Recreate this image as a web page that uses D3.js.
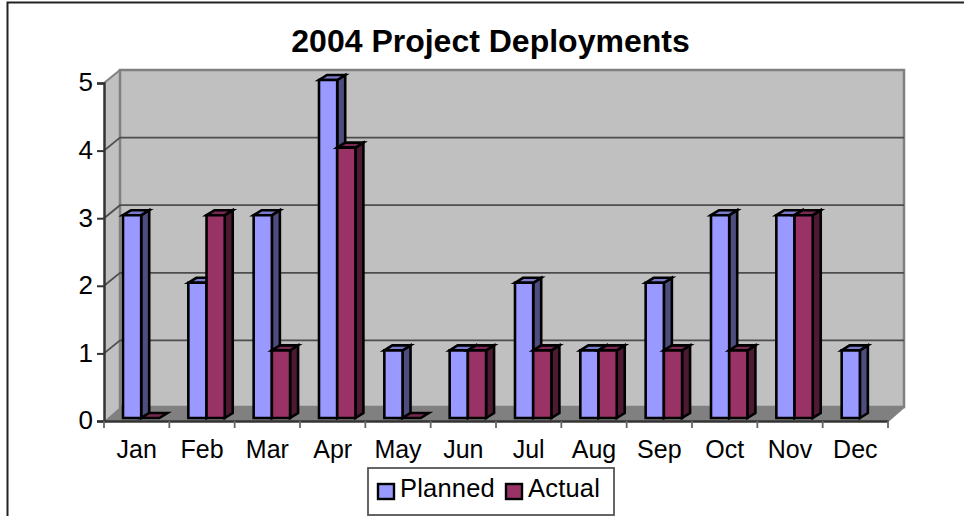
<!DOCTYPE html>
<html><head><meta charset="utf-8">
<script src="https://cdn.jsdelivr.net/npm/d3@7"></script>
<style>html,body{margin:0;padding:0;background:#fff}svg{display:block}text{font-family:"Liberation Sans",Arial,sans-serif;fill:#000}</style>
</head><body><svg id="c" width="964" height="516"></svg>
<script>
const months=["Jan","Feb","Mar","Apr","May","Jun","Jul","Aug","Sep","Oct","Nov","Dec"];
const planned=[3,2,3,5,1,1,2,1,2,3,3,1];
const actual=[0,3,1,4,0,1,1,1,1,1,3,null];
const yTicks=[0,1,2,3,4,5];
const titleText="2004 Project Deployments";
const seriesNames=["Planned","Actual"];
const palette={Planned:{f:"#9999ff",s:"#4d4d80",t:"#7a7acc"},Actual:{f:"#993366",s:"#4d1a33",t:"#7a2952"}};

const svg=d3.select("#c");
const L=104,R=888,B=421,T=83,DX=16,DY=14;
const x=d3.scaleBand().domain(months).range([L,R]);
const y=d3.scaleLinear().domain([0,5]).range([B,T]);
const barW=18.2,barDX=19,barLift=3,dx=8,dy=5;
const poly=(pts,fill,stroke,sw)=>svg.append("polygon").attr("points",pts.map(p=>p.join(",")).join(" ")).attr("fill",fill).attr("stroke",stroke||"none").attr("stroke-width",sw||0).attr("stroke-linejoin","miter");

// chart frame
svg.append("path").attr("d","M7.5,516V2.5H964").attr("fill","none").attr("stroke","#222").attr("stroke-width",2);
svg.append("text").attr("x",490.5).attr("y",52).attr("text-anchor","middle").attr("font-weight","bold").attr("font-size",32).text(titleText);

// walls
poly([[L,T],[L+DX,T-DY+1],[L+DX,B-DY],[L,B]],"#c0c0c0");
poly([[L+DX,T-DY+1],[R+DX,T-DY+1],[R+DX,B-DY],[L+DX,B-DY]],"#c0c0c0","#808080",2.5);
poly([[L,B],[L+DX,B-DY],[R+DX,B-DY],[R,B]],"#808080");
svg.append("line").attr("x1",L).attr("y1",T).attr("x2",L+DX).attr("y2",T-DY+1).attr("stroke","#808080").attr("stroke-width",2);
svg.append("line").attr("x1",R).attr("y1",B).attr("x2",R+DX).attr("y2",B-DY).attr("stroke","#808080").attr("stroke-width",2);
yTicks.slice(1,5).forEach(v=>{
  const yy=y(v);
  svg.append("path").attr("d",`M${L},${yy}L${L+DX},${yy-DY+1}H${R+DX}`).attr("fill","none").attr("stroke","#4d4d4d").attr("stroke-width",1.8);
});

// bars
months.forEach((m,i)=>{
  [[planned[i],"Planned",0],[actual[i],"Actual",1]].forEach(([v,name,k])=>{
    if(v===null) return;
    const c=palette[name],x0=x(m)+barDX+k*barW,x1=x0+barW,yb=y(0)-barLift,yt=y(v)-barLift;
    const sw=2.6;
    if(v>0){
      poly([[x1,yt],[x1+dx,yt-dy],[x1+dx,yb-dy],[x1,yb]],c.s,"#000",sw);
    }
    poly([[x0,yt],[x0+dx,yt-dy],[x1+dx,yt-dy],[x1,yt]],c.t,"#000",sw);
    if(v>0) poly([[x0,yt],[x1,yt],[x1,yb],[x0,yb]],c.f,"#000",sw);
  });
});

// axes
const ay=svg.append("g").attr("transform",`translate(${L},0)`).call(d3.axisLeft(y).tickValues(yTicks).tickFormat(d3.format("d")).tickSize(7).tickPadding(4));
const ax=svg.append("g").attr("transform",`translate(0,${B})`).call(d3.axisBottom(x).tickSize(0).tickPadding(19));
[ay,ax].forEach(a=>{a.selectAll("text").attr("font-family",'"Liberation Sans",Arial,sans-serif').attr("fill","#000");
  a.select(".domain").attr("stroke","#333").attr("stroke-width",2.5);
  a.selectAll(".tick line").attr("stroke","#333").attr("stroke-width",2);});
ax.selectAll("text").attr("font-size",25);
ay.selectAll("text").attr("font-size",26).attr("dy","0.3em");
ax.selectAll(".sep").data(d3.range(13)).enter().append("line").attr("x1",i=>L+i*x.step()).attr("x2",i=>L+i*x.step()).attr("y1",0).attr("y2",7).attr("stroke","#666").attr("stroke-width",1.8);

// legend
svg.append("rect").attr("x",368).attr("y",468).attr("width",246).attr("height",47).attr("fill","#fff").attr("stroke","#555").attr("stroke-width",1.8);
[[378,seriesNames[0]],[506,seriesNames[1]]].forEach(([lx,name])=>{
  svg.append("rect").attr("x",lx).attr("y",484).attr("width",16).attr("height",15).attr("fill",palette[name].f).attr("stroke","#000").attr("stroke-width",2.4);
  svg.append("text").attr("x",lx+22).attr("y",497).attr("font-size",25.5).attr("letter-spacing",0.2).text(name);
});
</script></body></html>
